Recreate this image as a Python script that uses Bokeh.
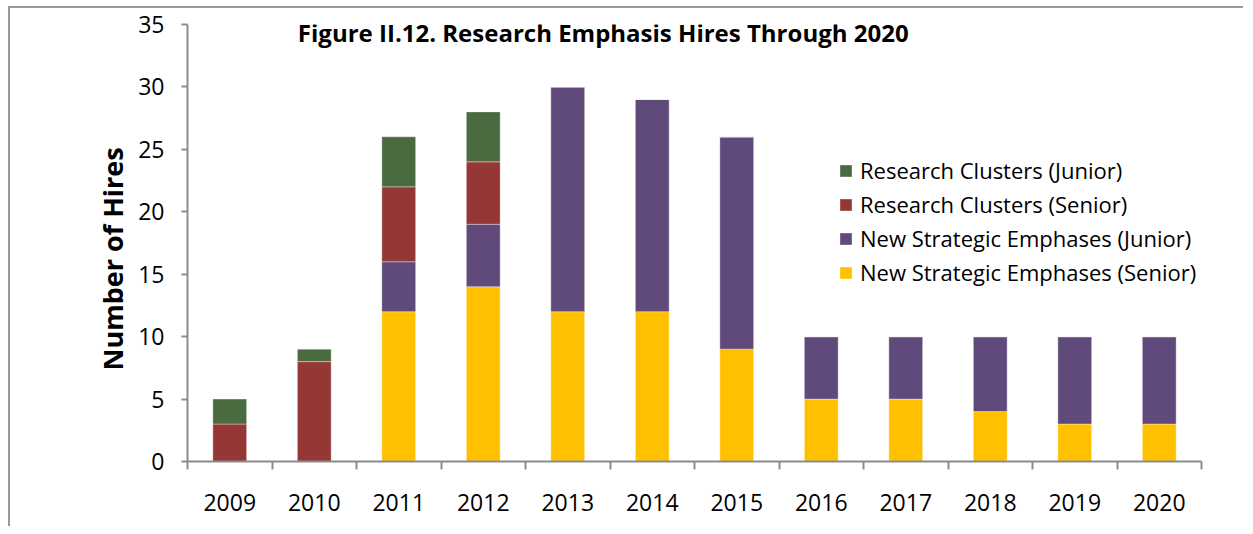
from bokeh.plotting import figure
from bokeh.models import FixedTicker, Legend, LegendItem, ColumnDataSource, Range1d, Label, Title
from bokeh.embed import file_html
from bokeh.resources import INLINE

# ---- data ----
years = ["2009", "2010", "2011", "2012", "2013", "2014", "2015", "2016", "2017", "2018", "2019", "2020"]
nse_senior = [0, 0, 12, 14, 12, 12, 9, 5, 5, 4, 3, 3]
nse_junior = [0, 0, 4, 5, 18, 17, 17, 5, 5, 6, 7, 7]
rc_senior = [3, 8, 6, 5, 0, 0, 0, 0, 0, 0, 0, 0]
rc_junior = [2, 1, 4, 4, 0, 0, 0, 0, 0, 0, 0, 0]
series_names = ["New Strategic Emphases (Senior)", "New Strategic Emphases (Junior)",
                "Research Clusters (Senior)", "Research Clusters (Junior)"]
colors = ["#FFC000", "#604A7B", "#953735", "#4A6A3F"]
y_ticks = [0, 5, 10, 15, 20, 25, 30, 35]
title_text = "Figure II.12. Research Emphasis Hires Through 2020"
y_label = "Number of Hires"

FONT = "Open Sans"
AXIS_COLOR = "#8c8c8c"

idx = list(range(len(years)))
keys = ["s0", "s1", "s2", "s3"]
src = ColumnDataSource(data=dict(x=idx, s0=nse_senior, s1=nse_junior, s2=rc_senior, s3=rc_junior))

p = figure(width=1235, height=520, output_backend="svg", toolbar_location=None,
           x_range=Range1d(-0.5, len(years) - 0.5), y_range=Range1d(0, 35),
           min_border_left=177, min_border_right=44, min_border_top=16, min_border_bottom=67)
p.outline_line_color = None
p.grid.visible = False
p.background_fill_color = "white"
p.border_fill_color = "white"
p.styles = {"margin-left": "8px", "margin-top": "6px",
            "border-left": "2px solid #9a9a9a", "border-top": "2px solid #9a9a9a"}

rs = p.vbar_stack(keys, x="x", width=0.4, color=colors, source=src,
                  line_color="white", line_alpha=0.35, line_width=1)

# y axis
ya = p.yaxis[0]
ya.ticker = FixedTicker(ticks=y_ticks)
ya.minor_tick_line_color = None
ya.major_tick_in = 0
ya.major_tick_out = 6
ya.axis_line_color = AXIS_COLOR
ya.axis_line_width = 2
ya.major_tick_line_color = AXIS_COLOR
ya.major_tick_line_width = 2
ya.major_label_text_font = FONT
ya.major_label_text_font_size = "23px"
ya.major_label_text_color = "black"
ya.major_label_standoff = 17

# y axis title, placed a bit below the frame centre as in the reference
p.add_layout(Title(text=y_label, align="left", offset=91, text_font=FONT,
                   text_font_size="27px", text_font_style="bold", text_color="black"), "left")

# x axis
xa = p.xaxis[0]
xa.ticker = FixedTicker(ticks=idx, minor_ticks=[i - 0.5 for i in range(len(years) + 1)])
xa.major_label_overrides = {i: y for i, y in enumerate(years)}
xa.major_tick_line_color = None
xa.major_tick_in = 0
xa.major_tick_out = 0
xa.minor_tick_in = 0
xa.minor_tick_out = 8
xa.minor_tick_line_color = AXIS_COLOR
xa.minor_tick_line_width = 2
xa.axis_line_color = AXIS_COLOR
xa.axis_line_width = 2
xa.major_label_text_font = FONT
xa.major_label_text_font_size = "23px"
xa.major_label_text_color = "black"
xa.major_label_standoff = 24

# title inside frame
p.add_layout(Label(x=4.42, y=35, y_offset=-8, text=title_text, text_align="center",
                   text_baseline="middle", text_font=FONT, text_font_size="24px",
                   text_font_style="bold", text_color="black"))

items = [LegendItem(label=series_names[i], renderers=[rs[i]]) for i in [3, 2, 1, 0]]
leg = Legend(items=items, location=(651, 174), border_line_color=None,
             background_fill_alpha=0, padding=0, margin=0, spacing=4,
             glyph_width=15, glyph_height=15, label_standoff=7,
             label_text_font=FONT, label_text_font_size="22px", label_text_color="black")
p.add_layout(leg)

open("out.html", "w").write(file_html(p, INLINE))
